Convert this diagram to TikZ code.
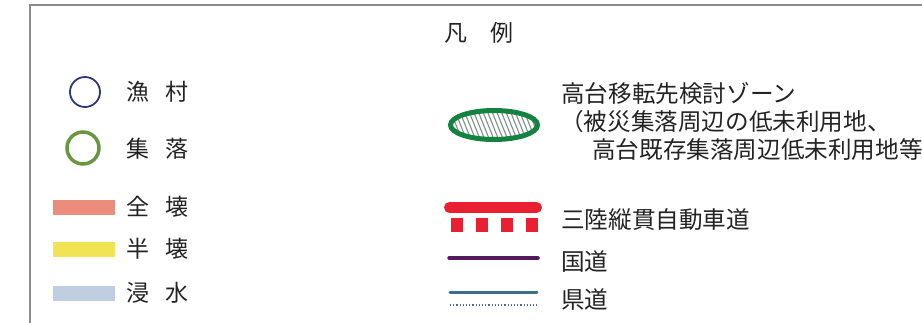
\documentclass[tikz,border=0pt]{standalone}
\usepackage{fontspec}
\newfontfamily\jp{Noto Sans CJK JP}
\definecolor{txt}{RGB}{35,35,35}
\definecolor{frame}{RGB}{140,140,140}
\definecolor{fishblue}{RGB}{45,55,125}
\definecolor{villgreen}{RGB}{105,150,65}
\definecolor{totalred}{RGB}{236,140,125}
\definecolor{halfyel}{RGB}{240,228,85}
\definecolor{floodblue}{RGB}{192,206,225}
\definecolor{zonegreen}{RGB}{20,130,65}
\definecolor{hatchc}{RGB}{125,145,135}
\definecolor{hwred}{RGB}{232,32,50}
\definecolor{natpurple}{RGB}{85,25,95}
\definecolor{prefteal}{RGB}{60,110,135}
\definecolor{prefdot}{RGB}{70,110,150}
\begin{document}
\begin{tikzpicture}[x=1pt,y=-1pt,
  lbl/.style={inner sep=0pt, anchor=west, font=\jp\fontsize{23}{26}\selectfont, text=txt},
  rlbl/.style={lbl, font=\jp\fontsize{23.6}{27}\selectfont},
  bar/.style={line width=15pt},
  hatch/.style={draw=hatchc, line width=1.1pt}]
\useasboundingbox (0,0) rectangle (922,322);
\clip (0,0) rectangle (922,322);
% frame
\draw[frame, line width=2.5pt] (30,330) -- (30,5) -- (930,5);
% title
\node[lbl, anchor=center] (title) at (478.5,33) {凡　例};
% left column
\draw[fishblue, line width=1.8pt] (85,92) circle (15);
\node[lbl] (fish) at (126,92) {漁\hspace{16pt}村};
\draw[villgreen, line width=3.5pt] (83,148) circle (16);
\node[lbl] (vill) at (126,149) {集\hspace{16pt}落};
\draw[totalred, bar] (53,207.5) -- (115,207.5);
\node[lbl] (total) at (126,207) {全\hspace{16pt}壊};
\draw[halfyel, bar] (53,249.5) -- (115,249.5);
\node[lbl] (half) at (126,249) {半\hspace{16pt}壊};
\draw[floodblue, bar] (53,293.5) -- (115,293.5);
\node[lbl] (flood) at (126,293) {浸\hspace{16pt}水};
% zone ellipse
\begin{scope}
  \clip (494,125) ellipse [x radius=43.5, y radius=14.5];
  \fill[white] (494,125) ellipse [x radius=43.5, y radius=14.5];
  \foreach \i in {0,...,26} \draw[hatch] (425+\i*4.6,105) -- ++(16,40);
\end{scope}
\draw[zonegreen, line width=5pt] (494,125) ellipse [x radius=43.5, y radius=14.5];
\node[rlbl] (zone1) at (561,93) {高台移転先検討ゾーン};
\node[rlbl] (zone2) at (560,122) {（被災集落周辺の低未利用地、};
\node[rlbl] (zone3) at (592,150) {高台既存集落周辺低未利用地等};
% expressway
\draw[hwred, line width=11pt, line cap=round] (449.5,207.5) -- (536.5,207.5);
\foreach \x in {451,476,501,526} \fill[hwred] (\x,218) rectangle ++(12,14);
\node[rlbl] (hw) at (561,220) {三陸縦貫自動車道};
% national road
\draw[natpurple, line width=3.5pt, line cap=round] (449,258) -- (538,258);
\node[rlbl] (nat) at (561,262) {国道};
% prefectural road
\draw[prefteal, line width=3pt, line cap=round] (450,292) -- (537,292);
\draw[prefdot, line width=1.6pt, dash pattern=on 1.2pt off 2pt] (450,305) -- (537,305);
\node[rlbl] (pref) at (561,300) {県道};
\end{tikzpicture}
\end{document}
